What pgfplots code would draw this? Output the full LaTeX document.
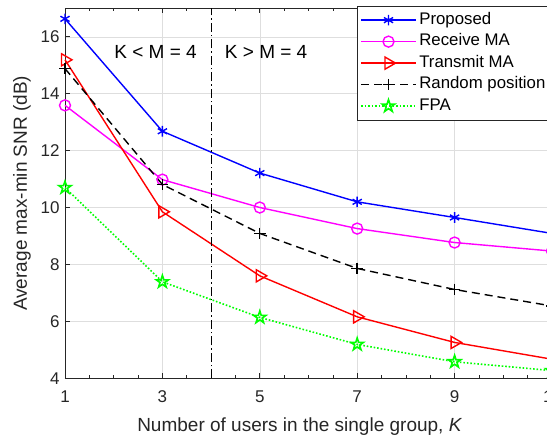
\documentclass[border=0pt]{standalone}
\usepackage{fontspec}
\setmainfont{Liberation Sans}
\usepackage{pgfplots}
\pgfplotsset{compat=1.18}
\definecolor{axgray}{rgb}{0.15,0.15,0.15}
\definecolor{gridgray}{rgb}{0.87,0.87,0.87}
\definecolor{mblue}{rgb}{0,0,1}
\definecolor{mmag}{rgb}{1,0,1}
\definecolor{mred}{rgb}{1,0,0}
\definecolor{mgreen}{rgb}{0,1,0}
\pgfdeclareplotmark{pentagram}{%
 \pgfpathmoveto{\pgfpointpolar{90}{\pgfplotmarksize}}%
 \pgfpathlineto{\pgfpointpolar{126}{0.382\pgfplotmarksize}}%
 \pgfpathlineto{\pgfpointpolar{162}{\pgfplotmarksize}}%
 \pgfpathlineto{\pgfpointpolar{198}{0.382\pgfplotmarksize}}%
 \pgfpathlineto{\pgfpointpolar{234}{\pgfplotmarksize}}%
 \pgfpathlineto{\pgfpointpolar{270}{0.382\pgfplotmarksize}}%
 \pgfpathlineto{\pgfpointpolar{306}{\pgfplotmarksize}}%
 \pgfpathlineto{\pgfpointpolar{342}{0.382\pgfplotmarksize}}%
 \pgfpathlineto{\pgfpointpolar{18}{\pgfplotmarksize}}%
 \pgfpathlineto{\pgfpointpolar{54}{0.382\pgfplotmarksize}}%
 \pgfpathclose\pgfusepathqstroke}
\begin{document}
\begin{tikzpicture}
\begin{axis}[
 name=ax,
 scale only axis, width=487pt, height=370pt,
 xmin=1, xmax=11, ymin=4, ymax=17,
 xtick={1,3,...,11}, ytick={4,6,...,16},
 minor x tick num=3,
 clip=false,
 grid=major, major grid style={gridgray, line width=0.5pt},
 tick align=inside, major tick length=5pt, minor tick length=3pt,
 axis line style={axgray, line width=0.6pt},
 every tick/.style={axgray, line width=0.6pt},
 tick label style={font=\fontsize{17}{20}\selectfont, text=axgray},
 xticklabel style={yshift=-9pt},
 yticklabel style={xshift=-2pt},
 /pgf/number format/assume math mode=true,
 xlabel={Number of users in the single group, \textit{K}},
 ylabel={Average max-min SNR (dB)},
 label style={font=\fontsize{19}{22}\selectfont, text=axgray},
 xlabel style={at={(axis description cs:0.482,-0.1316)}, anchor=center},
 ylabel style={at={(axis description cs:-0.0883,0.5)}, anchor=center},
 legend cell align=left,
 legend style={at={(axis description cs:0.599,1.006)}, anchor=north west,
   draw=axgray, line width=0.6pt, font=\fontsize{16.8}{19}\selectfont,
   inner xsep=3.2pt, inner ysep=3pt,
   nodes={inner xsep=2.5pt, inner ysep=2.75pt, text height=12pt, text depth=4pt}},
 legend image code/.code={\draw[mark repeat=2,mark phase=2,#1] plot coordinates {(0pt,0pt)(27.5pt,0pt)(55pt,0pt)};},
]
\addplot[mblue, line width=1.4pt, mark=asterisk, mark size=5.3pt, mark options={solid}]
 coordinates {(1,16.63)(3,12.68)(5,11.21)(7,10.20)(9,9.65)(11,9.09)};
\addlegendentry{Proposed}
\addplot[mmag, line width=1.4pt, mark=o, mark size=5.5pt, mark options={solid}]
 coordinates {(1,13.59)(3,10.98)(5,10.0)(7,9.26)(9,8.77)(11,8.47)};
\addlegendentry{Receive MA}
\addplot[mred, line width=1.4pt, mark=triangle, mark size=7pt, mark options={solid, rotate=-90}]
 coordinates {(1,15.19)(3,9.85)(5,7.6)(7,6.16)(9,5.26)(11,4.67)};
\addlegendentry{Transmit MA}
\addplot[black, line width=1.4pt, dash pattern=on 8pt off 5pt, mark=+, mark size=5.8pt, mark options={solid}]
 coordinates {(1,14.88)(3,10.81)(5,9.09)(7,7.86)(9,7.12)(11,6.54)};
\addlegendentry{Random position}
\addplot[mgreen, line width=1.6pt, dash pattern=on 1.6pt off 1.9pt, mark=pentagram, mark size=6.5pt, mark options={solid}]
 coordinates {(1,10.70)(3,7.39)(5,6.14)(7,5.19)(9,4.58)(11,4.27)};
\addlegendentry{FPA}
\addplot[black, line width=0.8pt, dash pattern=on 9pt off 3pt on 1.5pt off 3pt, forget plot]
 coordinates {(4,4)(4,17)};
\node[font=\fontsize{19}{22}\selectfont, text=black] at (axis cs:2.86,15.45) {K < M = 4};
\node[font=\fontsize{19}{22}\selectfont, text=black] at (axis cs:5.13,15.45) {K > M = 4};
\end{axis}
\pgfresetboundingbox
\useasboundingbox ([xshift=-65pt,yshift=-59.7pt]ax.south west) rectangle ([xshift=-5pt,yshift=8.3pt]ax.north east);
\end{tikzpicture}
\end{document}
